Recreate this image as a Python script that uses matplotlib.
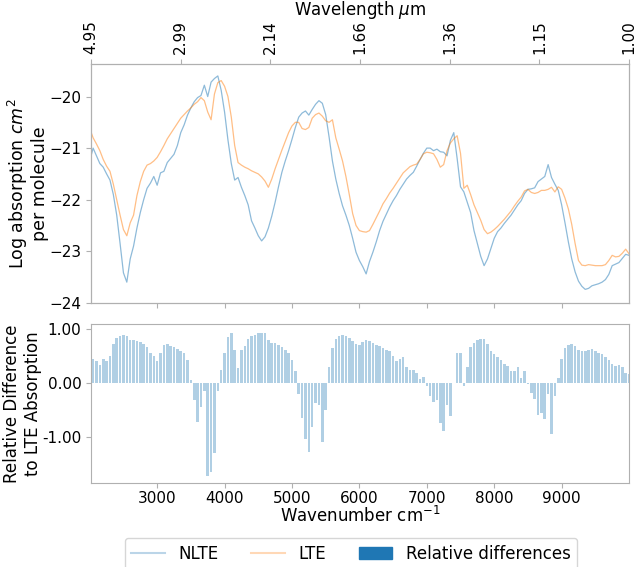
import numpy as np
import matplotlib
matplotlib.use("Agg")
import matplotlib.pyplot as plt
from matplotlib.lines import Line2D
from matplotlib.patches import Patch
from matplotlib.ticker import FormatStrFormatter

# wavenumber grid (cm^-1), 50 cm^-1 steps
wavenumber = np.arange(2000, 10001, 50)

# log absorption, NLTE
nlte = [
    -21.25, -21.00, -21.15, -21.30, -21.37, -21.50, -21.62, -21.90, -22.30, -22.85,
    -23.42, -23.60, -23.15, -22.90, -22.55, -22.25, -22.00, -21.78, -21.68, -21.55,
    -21.72, -21.48, -21.45, -21.28, -21.20, -21.12, -20.95, -20.70, -20.55, -20.36,
    -20.22, -20.10, -20.02, -19.98, -19.78, -20.00, -19.72, -19.65, -19.60, -19.88,
    -20.30, -20.84, -21.30, -21.62, -21.57, -21.76, -21.92, -22.10, -22.41, -22.55,
    -22.70, -22.80, -22.72, -22.55, -22.32, -22.05, -21.75, -21.47, -21.25, -21.05,
    -20.83, -20.60, -20.40, -20.32, -20.28, -20.36, -20.25, -20.15, -20.08, -20.13,
    -20.35, -20.78, -21.25, -21.60, -21.88, -22.12, -22.30, -22.50, -22.75, -23.02,
    -23.18, -23.30, -23.44, -23.20, -23.02, -22.82, -22.60, -22.42, -22.28, -22.14,
    -22.02, -21.92, -21.80, -21.70, -21.60, -21.53, -21.47, -21.35, -21.22, -21.10,
    -21.00, -21.00, -21.05, -21.02, -21.07, -21.08, -21.15, -20.85, -20.70, -21.20,
    -21.75, -21.85, -22.05, -22.25, -22.60, -22.85, -23.10, -23.28, -23.15, -22.95,
    -22.75, -22.62, -22.55, -22.46, -22.38, -22.30, -22.20, -22.10, -22.02, -21.88,
    -21.80, -21.79, -21.77, -21.65, -21.60, -21.55, -21.32, -21.57, -21.70, -21.82,
    -22.10, -22.45, -22.82, -23.15, -23.40, -23.58, -23.68, -23.74, -23.72, -23.67,
    -23.65, -23.63, -23.60, -23.55, -23.45, -23.28, -23.25, -23.22, -23.14, -23.06,
    -23.08,
]

# log absorption, LTE
lte = [
    -20.62, -20.80, -20.92, -21.05, -21.22, -21.35, -21.45, -21.70, -22.00, -22.30,
    -22.58, -22.70, -22.45, -22.30, -21.92, -21.65, -21.45, -21.33, -21.30, -21.25,
    -21.18, -21.07, -20.95, -20.82, -20.72, -20.62, -20.52, -20.42, -20.35, -20.28,
    -20.22, -20.15, -20.10, -20.02, -20.08, -20.30, -20.45, -19.95, -19.73, -19.69,
    -19.80, -20.00, -20.40, -20.95, -21.28, -21.33, -21.37, -21.40, -21.44, -21.47,
    -21.50, -21.56, -21.64, -21.76, -21.60, -21.40, -21.22, -21.04, -20.87, -20.70,
    -20.57, -20.50, -20.50, -20.62, -20.64, -20.60, -20.42, -20.35, -20.32, -20.38,
    -20.47, -20.50, -20.45, -20.80, -21.02, -21.25, -21.55, -21.90, -22.27, -22.50,
    -22.60, -22.62, -22.63, -22.60, -22.48, -22.35, -22.22, -22.08, -21.98, -21.87,
    -21.78, -21.68, -21.58, -21.48, -21.42, -21.36, -21.33, -21.31, -21.22, -21.11,
    -21.08, -21.09, -21.11, -21.22, -21.37, -21.32, -21.05, -20.90, -20.82, -20.76,
    -21.10, -21.78, -21.72, -21.90, -22.10, -22.25, -22.40, -22.58, -22.66, -22.63,
    -22.58, -22.52, -22.45, -22.38, -22.30, -22.22, -22.12, -22.03, -21.95, -21.83,
    -21.80, -21.86, -21.88, -21.86, -21.82, -21.82, -21.80, -21.76, -21.85, -21.75,
    -21.80, -21.97, -22.18, -22.48, -22.85, -23.18, -23.27, -23.28, -23.26, -23.27,
    -23.28, -23.28, -23.28, -23.26, -23.18, -23.08, -23.11, -23.10, -23.04, -22.96,
    -23.05,
]

# relative difference to LTE absorption
rel_diff = [
    0.50, 0.45, 0.40, 0.33, 0.45, 0.40, 0.50, 0.72, 0.84, 0.88,
    0.90, 0.87, 0.80, 0.80, 0.78, 0.76, 0.72, 0.67, 0.56, 0.50,
    0.40, 0.55, 0.70, 0.72, 0.68, 0.67, 0.64, 0.60, 0.55, 0.42,
    0.05, -0.32, -0.73, -0.45, -0.15, -1.72, -1.65, -1.30, -0.15, 0.25,
    0.55, 0.86, 0.92, 0.62, 0.27, 0.62, 0.68, 0.82, 0.87, 0.90,
    0.92, 0.93, 0.92, 0.80, 0.75, 0.74, 0.70, 0.67, 0.61, 0.55,
    0.42, 0.22, -0.20, -0.65, -1.05, -1.28, -0.82, -0.38, -0.40, -1.10,
    -0.50, 0.30, 0.65, 0.82, 0.88, 0.90, 0.87, 0.83, 0.78, 0.72,
    0.70, 0.77, 0.80, 0.78, 0.75, 0.71, 0.69, 0.65, 0.62, 0.59,
    0.50, 0.40, 0.44, 0.48, 0.30, 0.25, 0.24, 0.18, 0.08, 0.12,
    -0.05, -0.25, -0.35, -0.32, -0.75, -0.90, -0.40, -0.62, 0.00, 0.55,
    0.55, -0.06, 0.30, 0.66, 0.75, 0.80, 0.82, 0.82, 0.72, 0.60,
    0.54, 0.48, 0.42, 0.36, 0.32, 0.22, 0.22, 0.30, 0.10, 0.22,
    -0.02, -0.18, -0.30, -0.60, -0.56, -0.66, -0.20, -0.95, -0.25, 0.10,
    0.45, 0.65, 0.70, 0.73, 0.68, 0.62, 0.60, 0.60, 0.62, 0.64,
    0.60, 0.56, 0.54, 0.48, 0.43, 0.36, 0.32, 0.34, 0.30, 0.18,
    0.16,
]

wl_ticks = np.linspace(2020, 10000, 7)
x_ticks = [3000, 4000, 5000, 6000, 7000, 8000, 9000]
diff_ticks = [-1.0, 0.0, 1.0]

spine_col = "#b0b0b0"
plt.rcParams["font.size"] = 11
plt.rcParams["axes.labelsize"] = 12

fig = plt.figure(figsize=(6.37, 5.67), dpi=100)
ax1 = fig.add_axes([0.143, 0.466, 0.8445, 0.421])
ax2 = fig.add_axes([0.143, 0.148, 0.8445, 0.280], sharex=ax1)

ax1.plot(wavenumber, nlte, color="C0", alpha=0.5, lw=0.9)
ax1.plot(wavenumber, lte, color="C1", alpha=0.5, lw=0.9)
ax1.set_xlim(2020, 10000)
ax1.set_ylim(-24, -19.37)
ax1.set_yticks([-24, -23, -22, -21, -20])
ax1.set_ylabel("Log absorption $cm^2$\nper molecule", labelpad=0, fontsize=12.5,
               linespacing=1.1)
ax1.tick_params(axis="x", labelbottom=False)

top = ax1.twiny()
top.set_xlim(ax1.get_xlim())
top.set_xticks(wl_ticks)
top.set_xticklabels(["%.2f" % (1e4 / w) for w in wl_ticks], rotation=90)
top.set_xlabel(r"Wavelength $\mu$m", labelpad=4)

ax2.bar(wavenumber, rel_diff, width=38, color="C0", alpha=0.35, linewidth=0)
ax2.set_ylim(-1.86, 1.09)
ax2.set_yticks(diff_ticks)
ax2.yaxis.set_major_formatter(FormatStrFormatter("%.2f"))
ax2.set_xticks(x_ticks)
ax2.tick_params(axis="x", pad=2)
ax2.set_xlabel("Wavenumber cm$^{-1}$", labelpad=0)
ax2.set_ylabel("Relative Difference\nto LTE Absorption", labelpad=0)

for ax in (ax1, ax2, top):
    for s in ax.spines.values():
        s.set_color(spine_col)
    ax.tick_params(color=spine_col)

handles = [
    Line2D([], [], color="C0", alpha=0.3, lw=1.5),
    Line2D([], [], color="C1", alpha=0.3, lw=1.5),
    Patch(color="C0"),
]
fig.legend(handles, ["NLTE", "LTE", "Relative differences"], ncol=3,
           loc="upper center", bbox_to_anchor=(0.551, 0.051),
           bbox_transform=fig.transFigure, borderaxespad=0,
           fontsize=12, frameon=True)

fig.savefig("out.png", dpi=100)
